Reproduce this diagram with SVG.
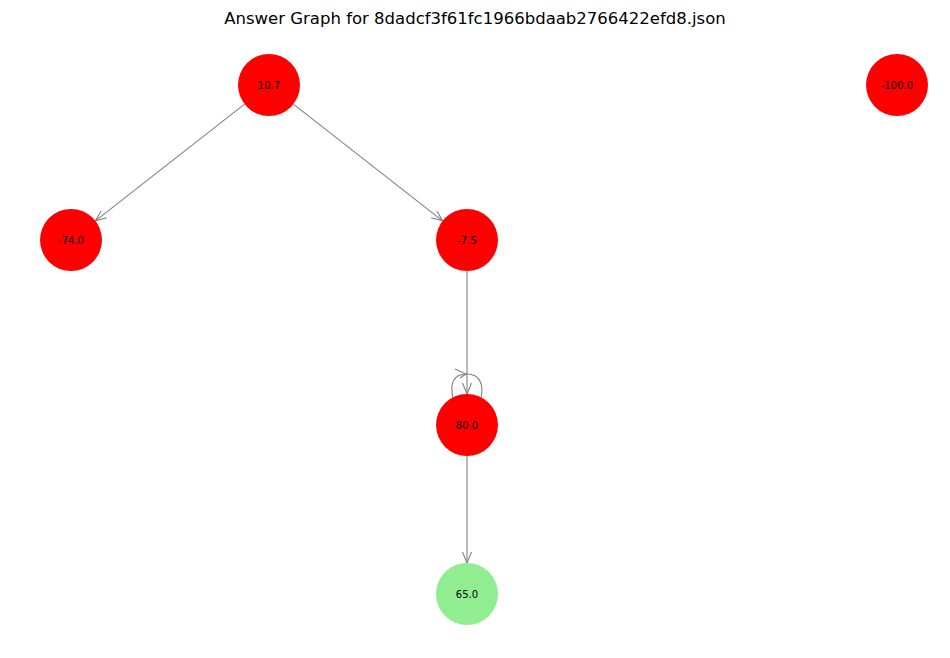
<svg xmlns="http://www.w3.org/2000/svg" width="950" height="658" viewBox="0 0 950 658">
<style>
.edge{stroke:#808080;stroke-width:1.1;fill:none}
.red{fill:#ff0000}
.green{fill:#90ee90}
.lbl{font-family:"DejaVu Sans",sans-serif;font-size:10px;text-anchor:middle;dominant-baseline:central;fill:#000}
.title{font-family:"DejaVu Sans",sans-serif;font-size:16.5px;text-anchor:middle;fill:#000}
</style>
<defs>
<marker id="arr" viewBox="0 0 12 10" refX="11" refY="5" markerWidth="12" markerHeight="10" markerUnits="userSpaceOnUse" orient="auto">
<path d="M0,0.5 L11,5 L0,9.5" fill="none" stroke="#808080" stroke-width="1.1"/>
</marker>
</defs>
<rect width="950" height="658" fill="#fff"/>
<text class="title" x="475" y="24">Answer Graph for 8dadcf3f61fc1966bdaab2766422efd8.json</text>
<g id="connectors">
<line class="edge" x1="244.6" y1="104.1" x2="95.4" y2="220.9" marker-end="url(#arr)"/>
<line class="edge" x1="293.4" y1="104.1" x2="442.6" y2="220.9" marker-end="url(#arr)"/>
<line class="edge" x1="467" y1="271" x2="467" y2="394" marker-end="url(#arr)"/>
<line class="edge" x1="467" y1="456" x2="467" y2="563" marker-end="url(#arr)"/>
<path class="edge" d="M453,398 C450,385 452,374 467,374 C480,374 484,385 481,398"/>
<path d="M455,369 L466,374 L460,378" fill="none" stroke="#808080" stroke-width="1.1"/>
</g>
<g id="n10_7"><circle class="red" cx="269" cy="85" r="31"/><text class="lbl" x="269" y="85">10.7</text></g>
<g id="n_100"><circle class="red" cx="897" cy="85" r="31"/><text class="lbl" x="897" y="85">-100.0</text></g>
<g id="n_74"><circle class="red" cx="71" cy="240" r="31"/><text class="lbl" x="71" y="240">-74.0</text></g>
<g id="n_7_5"><circle class="red" cx="467" cy="240" r="31"/><text class="lbl" x="467" y="240">-7.5</text></g>
<g id="n80"><circle class="red" cx="467" cy="425" r="31"/><text class="lbl" x="467" y="425">80.0</text></g>
<g id="n65"><circle class="green" cx="467" cy="594" r="31"/><text class="lbl" x="467" y="594">65.0</text></g>
</svg>
